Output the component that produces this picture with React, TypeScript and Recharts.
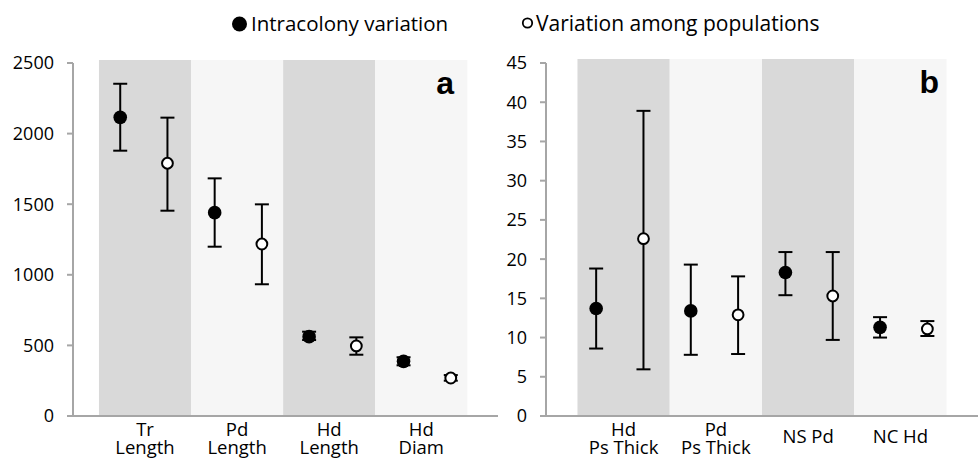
import React from 'react'
import { ComposedChart, Scatter, ErrorBar, XAxis, YAxis, ReferenceArea } from 'recharts'

// panel a
const labelsA = [['Tr', 'Length'], ['Pd', 'Length'], ['Hd', 'Length'], ['Hd', 'Diam']]
const intraA = [2115, 1440, 562, 387]
const intraLowA = [1879, 1199, 538, 359]
const intraHighA = [2353, 1683, 597, 416]
const amongA = [1790, 1218, 496, 269]
const amongLowA = [1454, 933, 434, 250]
const amongHighA = [2113, 1499, 557, 290]
const ticksA = [0, 500, 1000, 1500, 2000, 2500]

// panel b
const labelsB = [['Hd', 'Ps Thick'], ['Pd', 'Ps Thick'], ['NS Pd'], ['NC Hd']]
const intraB = [13.7, 13.4, 18.3, 11.3]
const intraLowB = [8.6, 7.8, 15.4, 10.0]
const intraHighB = [18.8, 19.3, 20.9, 12.6]
const amongB = [22.6, 12.9, 15.3, 11.1]
const amongLowB = [5.95, 7.9, 9.7, 10.2]
const amongHighB = [38.9, 17.8, 20.9, 12.1]
const ticksB = [0, 5, 10, 15, 20, 25, 30, 35, 40, 45]

const FONT = '"Open Sans", sans-serif'
const AXIS = '#a6a6a6'
const BAND_W = 1.95

const toPoints = (vals: number[], lows: number[], highs: number[], offset: number) =>
  vals.map((v, i) => ({ x: i * 2 + offset, y: v, err: [v - lows[i], highs[i] - v] }))

const CatTick = (props: any) => {
  const { x, y, index, labels } = props
  const lines: string[] = labels[index] || []
  const first = lines.length > 1 ? 20 : 27
  return (
    <g>
      {lines.map((l, k) => (
        <text key={k} x={x} y={y + first + k * 18} textAnchor="middle" fontFamily={FONT} fontSize={18.5} fill="#000">
          {l}
        </text>
      ))}
    </g>
  )
}

const filledDot = (p: any) => <circle cx={p.cx} cy={p.cy} r={6.8} fill="#000" />
const openDot = (p: any) => <circle cx={p.cx} cy={p.cy} r={5.4} fill="#fff" stroke="#000" strokeWidth={2} />

interface PanelProps {
  left: number
  width: number
  yWidth: number
  xDomain: [number, number]
  bandStart: number
  bandTop: number
  yMax: number
  ticks: number[]
  labels: string[][]
  intra: any[]
  among: any[]
}

function Panel(p: PanelProps) {
  const bands = p.labels.map((_, i) => [p.bandStart + i * BAND_W, p.bandStart + (i + 1) * BAND_W])
  const centers = bands.map((b) => (b[0] + b[1]) / 2)
  return (
    <div style={{ position: 'absolute', left: p.left, top: 0 }}>
      <ComposedChart width={p.width} height={459} margin={{ top: 63, right: 1, bottom: 0, left: 0 }}>
        {bands.map((b, i) => (
          <ReferenceArea
            key={i}
            x1={b[0]}
            x2={b[1]}
            y1={0}
            y2={p.bandTop}
            ifOverflow="visible"
            fill={i % 2 === 0 ? '#d9d9d9' : '#f6f6f6'}
            fillOpacity={1}
            stroke="none"
          />
        ))}
        <XAxis
          type="number"
          dataKey="x"
          domain={p.xDomain}
          allowDataOverflow
          ticks={centers}
          interval={0}
          tickLine={false}
          tickSize={0}
          tickMargin={0}
          height={43}
          axisLine={{ stroke: AXIS, strokeWidth: 2 }}
          tick={<CatTick labels={p.labels} />}
        />
        <YAxis
          type="number"
          domain={[0, p.yMax]}
          ticks={p.ticks}
          interval={0}
          width={p.yWidth}
          tickSize={6}
          tickMargin={13}
          axisLine={{ stroke: AXIS, strokeWidth: 2 }}
          tickLine={{ stroke: AXIS, strokeWidth: 2 }}
          tick={{ fontFamily: FONT, fontSize: 18, fill: '#000' }}
        />
        <Scatter data={p.intra} dataKey="y" isAnimationActive={false} shape={filledDot}>
          <ErrorBar dataKey="err" direction="y" width={7} stroke="#000" strokeWidth={2} />
        </Scatter>
        <Scatter data={p.among} dataKey="y" isAnimationActive={false} shape={openDot}>
          <ErrorBar dataKey="err" direction="y" width={7} stroke="#000" strokeWidth={2} />
        </Scatter>
      </ComposedChart>
    </div>
  )
}

export default function App() {
  return (
    <div style={{ position: 'absolute', left: 0, top: 0, width: 979, height: 459, background: '#fff' }}>
      <Panel
        left={0}
        width={499}
        yWidth={73}
        xDomain={[0, 9]}
        bandStart={0.55}
        bandTop={2521}
        yMax={2500}
        ticks={ticksA}
        labels={labelsA}
        intra={toPoints(intraA, intraLowA, intraHighA, 1)}
        among={toPoints(amongA, amongLowA, amongHighA, 2)}
      />
      <Panel
        left={490}
        width={489}
        yWidth={56}
        xDomain={[-0.06, 9.07]}
        bandStart={0.605}
        bandTop={45.5}
        yMax={45}
        ticks={ticksB}
        labels={labelsB}
        intra={toPoints(intraB, intraLowB, intraHighB, 1)}
        among={toPoints(amongB, amongLowB, amongHighB, 2)}
      />
      <svg width={979} height={459} style={{ position: 'absolute', left: 0, top: 0, pointerEvents: 'none' }}>
        <circle cx={239.5} cy={24} r={7.5} fill="#000" />
        <text x={251} y={31} fontFamily={FONT} fontSize={20.5} fill="#000">Intracolony variation</text>
        <circle cx={527.5} cy={23} r={4.7} fill="#fff" stroke="#000" strokeWidth={1.8} />
        <text x={536} y={31} fontFamily={FONT} fontSize={21} fill="#000">Variation among populations</text>
        <text x={454} y={94} textAnchor="end" fontFamily='"Liberation Sans", Arial, sans-serif' fontWeight="bold" fontSize={32} fill="#000">a</text>
        <text x={939} y={93} textAnchor="end" fontFamily='"Liberation Sans", Arial, sans-serif' fontWeight="bold" fontSize={32} fill="#000">b</text>
      </svg>
    </div>
  )
}
